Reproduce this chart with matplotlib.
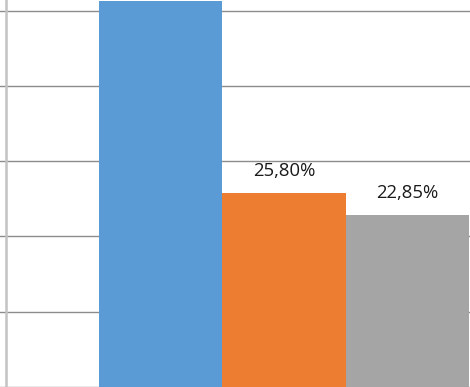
import matplotlib
matplotlib.use("Agg")
import matplotlib.pyplot as plt

categories = ["A", "B", "C"]
values = [51.3, 25.80, 22.85]
labels = [None, "25,80%", "22,85%"]
colors = ["#5B9BD5", "#ED7D31", "#A5A5A5"]
yticks = [0, 10, 20, 30, 40, 50]

fig = plt.figure(figsize=(4.70, 3.87), dpi=100)
ax = fig.add_axes([0, 0, 1, 1])
x = list(range(len(categories)))
ax.bar(x, values, width=1.0, color=colors, zorder=3)
for xi, v, lab in zip(x, values, labels):
    if lab:
        ax.text(xi, v + 1.7, lab, ha="center", va="bottom", fontsize=13.3,
                family="Open Sans", color="#1a1a1a", zorder=4)
ax.set_xlim(-161/123, 309/123)
ax.set_ylim(-0.02, 51.45)
for t in yticks:
    ax.axhline(t, color="#8c8c8c", lw=1.0, zorder=1)
ax.axvline(-154.5/123, color="#c3c3c3", lw=1.8, zorder=2)
for s in ax.spines.values():
    s.set_visible(False)
ax.set_xticks([])
ax.set_yticks([])
fig.savefig("out.png", dpi=100)
